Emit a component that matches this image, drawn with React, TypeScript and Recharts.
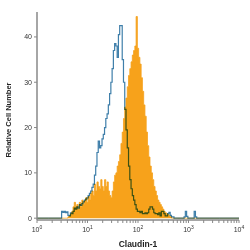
import React from 'react';
import { ComposedChart, Area, Line, XAxis, YAxis } from 'recharts';

// histogram bins on a log10 scale (decades), first bin and bin width
const binStart = 0.45;
const binWidth = 0.025;

// Claudin-1 stained cells (filled orange)
const stained = [
  0, 0, 0, 0, 0, 0, 0, 0.3, 0.5, 1.0,
  1.5, 2.5, 3.5, 2.5, 3.0, 2.0, 3.5, 2.5, 4.0, 3.0,
  3.8, 4.5, 3.5, 4.8, 4.0, 5.5, 6.0, 5.0, 7.5, 6.0,
  8.0, 7.0, 6.5, 8.5, 7.0, 6.0, 8.5, 7.0, 8.0, 6.0,
  5.0, 4.5, 6.0, 8.0, 9.5, 10.0, 11.5, 12.5, 14.0, 16.5,
  19.0, 22.0, 24.5, 26.5, 29.0, 31.5, 33.0, 34.5, 36.0, 37.0,
  38.0, 44.5, 37.5, 35.5, 34.0, 31.0, 28.0, 25.0, 22.5, 19.0,
  16.0, 13.5, 11.5, 10.0, 8.5, 7.0, 6.0, 5.0, 4.0, 3.5,
  3.0, 2.5, 2.0, 1.5, 1.2, 1.0, 0.8, 0.5, 0.3, 0,
  0, 0, 0, 0, 0, 0, 0, 0, 0, 0,
  0, 0, 0, 0, 0, 0, 0, 0, 0, 0,
  0, 0,
];

// isotype control (blue outline)
const isotype = [
  0, 0, 1.5, 1.3, 1.5, 1.2, 1.4, 0.6, 0.5, 1.2,
  1.0, 1.5, 2.2, 2.0, 2.5, 2.2, 3.0, 2.8, 3.2, 3.6,
  4.0, 4.2, 4.5, 5.0, 5.5, 6.0, 6.8, 7.5, 9.5, 11.5,
  14.5, 17.0, 15.5, 16.0, 17.5, 18.5, 20.0, 22.0, 23.0, 25.0,
  27.5, 30.0, 33.0, 37.0, 38.5, 38.0, 35.5, 40.5, 42.5, 42.5,
  35.0, 30.0, 24.0, 19.5, 15.5, 11.5, 8.5, 6.5, 5.0, 4.0,
  3.0, 2.0, 1.5, 1.5, 1.2, 1.5, 1.0, 1.0, 1.2, 1.0,
  1.2, 2.0, 2.5, 2.5, 2.0, 1.2, 1.0, 1.0, 0.8, 1.2,
  0.5, 1.5, 1.5, 1.0, 0.5, 0.5, 1.0, 1.3, 0.6, 0.3,
  0.3, 0, 0, 0, 0, 0, 0, 0, 0, 0.3,
  1.5, 0.4, 0, 0, 0, 0, 0, 1.5, 0.3, 0,
  0, 0,
];

const decades = [0, 1, 2, 3, 4];
const minorSteps = [2, 3, 4, 5, 6, 7, 8, 9];
const countTicks = [0, 10, 20, 30, 40];

const data = [
  { d: 0, stained: 0, isotype: 0 },
  ...stained.map((v, i) => ({ d: binStart + i * binWidth, stained: v, isotype: isotype[i] })),
  { d: 4, stained: 0, isotype: 0 },
];

const xTicks: number[] = [];
decades.forEach((dec) => {
  xTicks.push(dec);
  if (dec < 4) minorSteps.forEach((m) => xTicks.push(dec + Math.log10(m)));
});

const font = '"Liberation Sans", Arial, sans-serif';

function DecadeTick(props: any) {
  const { x, y, payload } = props;
  if (!decades.includes(payload.value)) return null;
  return (
    <text x={x} y={y} dy={7} textAnchor="middle" fontSize={7} fill="#333" fontFamily={font}>
      <tspan>10</tspan>
      <tspan dy={-3} fontSize={5}>{payload.value}</tspan>
    </text>
  );
}

function YTitle(props: any) {
  const { viewBox } = props;
  const cx = viewBox.x + 11;
  const cy = viewBox.y + viewBox.height / 2 + 4;
  return (
    <text
      x={cx}
      y={cy}
      transform={`rotate(-90 ${cx} ${cy})`}
      textAnchor="middle"
      fontSize={7.5}
      fontWeight="bold"
      fill="#222"
      fontFamily={font}
    >
      Relative Cell Number
    </text>
  );
}

export default function App() {
  return (
    <div style={{ position: 'absolute', left: 0, top: 0, width: 250, height: 250, background: '#fff' }}>
      <style>{`body{margin:0} .recharts-line-curve{mix-blend-mode:multiply}`}</style>
      <ComposedChart width={250} height={250} data={data} margin={{ top: 12, right: 11, bottom: 0, left: 0 }}>
        <XAxis
          type="number"
          dataKey="d"
          domain={[0, 4]}
          ticks={xTicks}
          interval={0}
          tick={<DecadeTick />}
          tickSize={3}
          tickLine={{ stroke: '#888' }}
          axisLine={{ stroke: '#888', strokeWidth: 1.5 }}
          height={30}
          label={{
            value: 'Claudin-1',
            position: 'insideBottom',
            offset: 3,
            style: { fontSize: 8.5, fontWeight: 'bold', fill: '#222', fontFamily: font },
          }}
        />
        <YAxis
          type="number"
          domain={[-0.4, 45.5]}
          ticks={countTicks}
          interval={0}
          width={37}
          tickSize={3}
          tickMargin={2}
          tick={{ fontSize: 7, fill: '#333', fontFamily: font }}
          tickLine={{ stroke: '#888' }}
          axisLine={{ stroke: '#888', strokeWidth: 1.5 }}
          allowDataOverflow
          label={{ content: <YTitle /> }}
        />
        <Area
          type="step"
          dataKey="stained"
          stroke="#F5A11C"
          strokeWidth={0.8}
          fill="#F7A21B"
          fillOpacity={1}
          baseValue={0}
          dot={false}
          activeDot={false}
          isAnimationActive={false}
        />
        <Line
          type="step"
          dataKey="isotype"
          stroke="#3F7FAA"
          strokeWidth={1.2}
          dot={false}
          activeDot={false}
          isAnimationActive={false}
        />
      </ComposedChart>
    </div>
  );
}
